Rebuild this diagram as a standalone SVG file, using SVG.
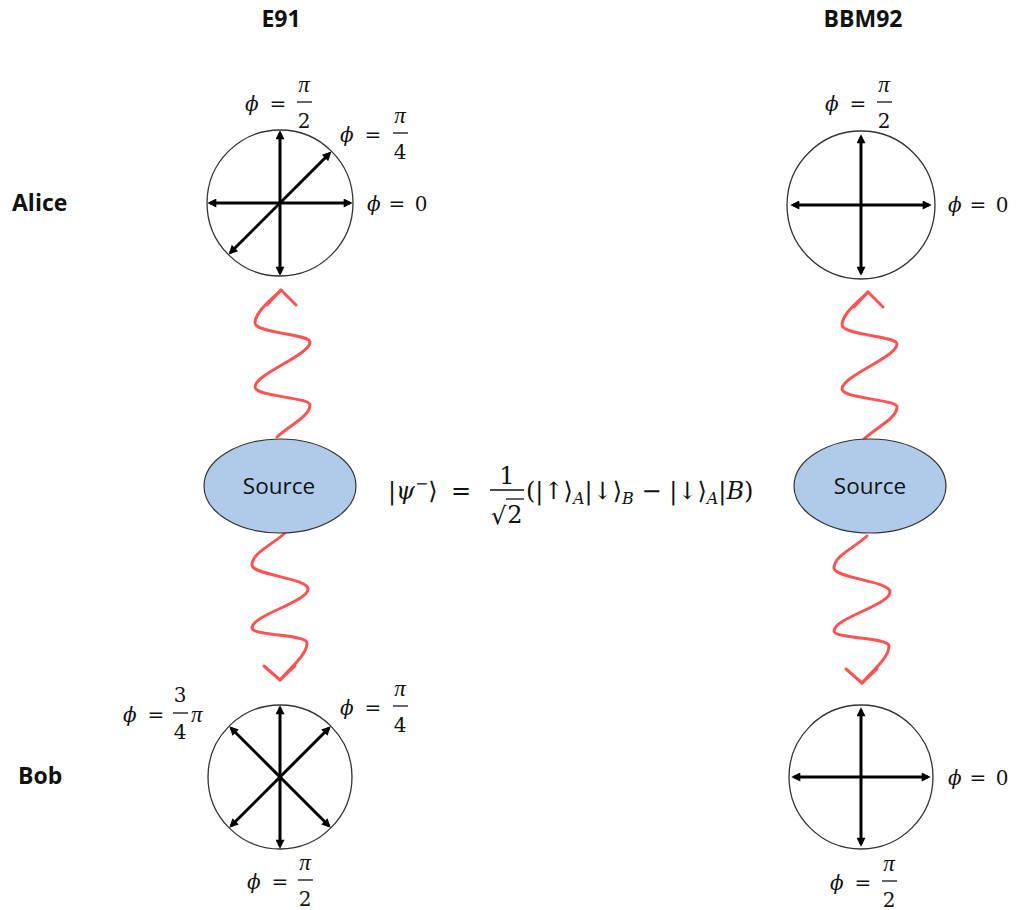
<svg xmlns="http://www.w3.org/2000/svg" width="1017" height="910" viewBox="0 0 1017 910">
<style>
.ttl{font-family:"Open Sans","Liberation Sans",sans-serif;font-weight:bold;font-size:23px;fill:#111}
.src{font-family:"Open Sans","Liberation Sans",sans-serif;font-size:22.5px;fill:#111;text-anchor:middle}
.m{font-family:"DejaVu Serif","Liberation Serif",serif;font-size:20px;fill:#111}
.p{font-family:"Liberation Serif","DejaVu Serif",serif;font-size:23px;font-style:italic}
.eq{font-family:"DejaVu Serif","Liberation Serif",serif;font-size:24px;fill:#111}
.i{font-style:italic}
.c{text-anchor:middle}
.sub{font-size:16px}
.circ{fill:#fff;stroke:#333;stroke-width:1.3}
.ax{stroke:#000;stroke-width:3;marker-start:url(#ah);marker-end:url(#ah)}
.bar{stroke:#111;stroke-width:1.3}
.wave{fill:none;stroke:#ff5252;stroke-width:3;stroke-linecap:round;stroke-linejoin:round}
.ell{fill:#afcbe9;stroke:#333;stroke-width:1.2}
</style>
<defs>
<marker id="ah" viewBox="0 0 10 10" refX="7" refY="5" markerWidth="11" markerHeight="9" markerUnits="userSpaceOnUse" orient="auto-start-reverse">
<path d="M0,0 L10,5 L0,10 z" fill="#000"/>
</marker>
<g id="waveUp">
<path class="wave" d="M277,437 C290,425 310,416 310,405 C310,397 255,397 255,387 C255,374 310,355 310,342 C310,334 255,333 255,323 C255,312 270,301 281,290"/>
<path class="wave" d="M267,305 L281,290 L296,305"/>
</g>
<g id="waveDown">
<path class="wave" d="M285,533 C272,545 252,553 252,565 C252,575 308,578 308,589 C308,602 252,615 252,628 C252,636 307,634 307,643 C307,655 290,668 280,680"/>
<path class="wave" d="M264,666 L280,680 L295,666"/>
</g>
</defs>
<rect width="1017" height="910" fill="#fff"/>

<g id="titles">
<text class="ttl c" x="281" y="27">E91</text>
<text class="ttl c" x="863" y="27">BBM92</text>
<text class="ttl" x="12" y="211" font-size="22">Alice</text>
<text class="ttl" x="18" y="784" font-size="22">Bob</text>
</g>

<g id="connectors">
<use href="#waveUp"/>
<use href="#waveDown"/>
<use href="#waveUp" transform="translate(587,2)"/>
<use href="#waveDown" transform="translate(582,3)"/>
</g>

<g id="e91-alice">
<circle class="circ" cx="280" cy="203" r="73"/>
<line class="ax" x1="280" y1="273" x2="280" y2="133"/>
<line class="ax" x1="210" y1="203" x2="350" y2="203"/>
<line class="ax" x1="230.5" y1="252.5" x2="329.5" y2="153.5"/>
</g>
<g id="e91-bob">
<circle class="circ" cx="280" cy="777" r="72"/>
<line class="ax" x1="280" y1="708" x2="280" y2="846"/>
<line class="ax" x1="231.2" y1="825.8" x2="328.8" y2="728.2"/>
<line class="ax" x1="328.8" y1="825.8" x2="231.2" y2="728.2"/>
</g>
<g id="bbm-alice">
<circle class="circ" cx="861" cy="205" r="74"/>
<line class="ax" x1="861" y1="137" x2="861" y2="273"/>
<line class="ax" x1="793" y1="205" x2="929" y2="205"/>
</g>
<g id="bbm-bob">
<circle class="circ" cx="861" cy="777" r="72"/>
<line class="ax" x1="861" y1="710" x2="861" y2="844"/>
<line class="ax" x1="794" y1="777" x2="928" y2="777"/>
</g>

<g id="source-e91">
<ellipse class="ell" cx="280" cy="486" rx="76" ry="47"/>
<text class="src" x="279" y="494">Source</text>
</g>
<g id="source-bbm">
<ellipse class="ell" cx="870" cy="486" rx="76" ry="47"/>
<text class="src" x="870" y="494">Source</text>
</g>

<g id="lbl-e91-a-pi2">
<text class="m i" x="245" y="111">ϕ</text><text class="m c" x="278" y="111">=</text>
<text class="m p c" x="304" y="92">π</text><line class="bar" x1="297" y1="102" x2="312" y2="102"/><text class="m c" x="304" y="128">2</text>
</g>
<g id="lbl-e91-a-pi4">
<text class="m i" x="340" y="142">ϕ</text><text class="m c" x="373" y="142">=</text>
<text class="m p c" x="400" y="123">π</text><line class="bar" x1="393" y1="133" x2="408" y2="133"/><text class="m c" x="400" y="159">4</text>
</g>
<g id="lbl-e91-a-0">
<text class="m i" x="367" y="211">ϕ</text><text class="m c" x="397" y="211">=</text><text class="m c" x="421" y="211">0</text>
</g>
<g id="lbl-e91-b-3pi4">
<text class="m i" x="123" y="722">ϕ</text><text class="m c" x="156" y="722">=</text>
<text class="m c" x="180" y="702">3</text><line class="bar" x1="173" y1="713" x2="188" y2="713"/><text class="m c" x="180" y="739">4</text>
<text class="m p" x="191" y="722">π</text>
</g>
<g id="lbl-e91-b-pi4">
<text class="m i" x="340" y="715">ϕ</text><text class="m c" x="373" y="715">=</text>
<text class="m p c" x="400" y="696">π</text><line class="bar" x1="393" y1="706" x2="408" y2="706"/><text class="m c" x="400" y="732">4</text>
</g>
<g id="lbl-e91-b-pi2">
<text class="m i" x="247" y="889">ϕ</text><text class="m c" x="280" y="889">=</text>
<text class="m p c" x="305" y="870">π</text><line class="bar" x1="298" y1="880" x2="313" y2="880"/><text class="m c" x="305" y="906">2</text>
</g>
<g id="lbl-bbm-a-pi2">
<text class="m i" x="825" y="111">ϕ</text><text class="m c" x="858" y="111">=</text>
<text class="m p c" x="884" y="92">π</text><line class="bar" x1="877" y1="102" x2="892" y2="102"/><text class="m c" x="884" y="128">2</text>
</g>
<g id="lbl-bbm-a-0">
<text class="m i" x="948" y="212">ϕ</text><text class="m c" x="978" y="212">=</text><text class="m c" x="1002" y="212">0</text>
</g>
<g id="lbl-bbm-b-0">
<text class="m i" x="948" y="785">ϕ</text><text class="m c" x="978" y="785">=</text><text class="m c" x="1002" y="785">0</text>
</g>
<g id="lbl-bbm-b-pi2">
<text class="m i" x="830" y="890">ϕ</text><text class="m c" x="863" y="890">=</text>
<text class="m p c" x="889" y="871">π</text><line class="bar" x1="882" y1="881" x2="897" y2="881"/><text class="m c" x="889" y="907">2</text>
</g>

<g id="equation">
<text class="eq" x="388" y="499">|<tspan class="i">ψ</tspan><tspan class="sub" dy="-10">−</tspan><tspan dy="10">⟩</tspan></text>
<text class="eq c" x="461" y="499">=</text>
<text class="eq c" x="507" y="484">1</text>
<line class="bar" x1="490" y1="490" x2="524" y2="490"/>
<text class="eq" x="491" y="524">√</text>
<line class="bar" x1="506" y1="499" x2="524" y2="499"/>
<text class="eq c" x="515" y="523">2</text>
<text class="eq" x="526" y="499">(|↑⟩<tspan class="i sub" dy="5">A</tspan><tspan dy="-5">|↓⟩</tspan><tspan class="i sub" dy="5">B</tspan><tspan dy="-5"> − |↓⟩</tspan><tspan class="i sub" dy="5">A</tspan><tspan dy="-5">|</tspan><tspan class="i">B</tspan>)</text>
</g>
</svg>
